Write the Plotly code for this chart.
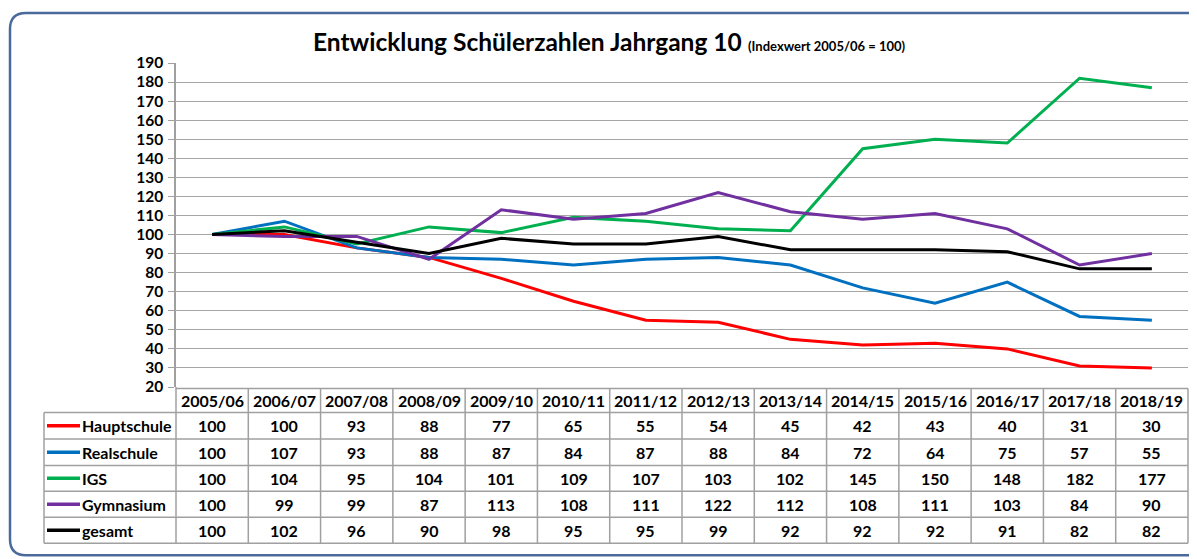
import plotly.graph_objects as go

years = ["2005/06", "2006/07", "2007/08", "2008/09", "2009/10", "2010/11", "2011/12",
         "2012/13", "2013/14", "2014/15", "2015/16", "2016/17", "2017/18", "2018/19"]
hauptschule = [100, 100, 93, 88, 77, 65, 55, 54, 45, 42, 43, 40, 31, 30]
realschule = [100, 107, 93, 88, 87, 84, 87, 88, 84, 72, 64, 75, 57, 55]
igs = [100, 104, 95, 104, 101, 109, 107, 103, 102, 145, 150, 148, 182, 177]
gymnasium = [100, 99, 99, 87, 113, 108, 111, 122, 112, 108, 111, 103, 84, 90]
gesamt = [100, 102, 96, 90, 98, 95, 95, 99, 92, 92, 92, 91, 82, 82]

series_names = ["Hauptschule", "Realschule", "IGS", "Gymnasium", "gesamt"]
series_values = [hauptschule, realschule, igs, gymnasium, gesamt]
series_colors = ["#FF0000", "#0070C0", "#00B050", "#7030A0", "#000000"]
y_ticks = list(range(20, 200, 10))

# page offset of the figure div (browser body margin)
OFF = 8
W, H = 1197 - OFF, 559 - OFF
# plot-area edges in screen pixels
PL, PR, PT, PB = 176, 1188, 63, 387.5
FONT = "Lato"


def px(x):
    return (x - PL) / (PR - PL)


def py(y):
    return (PB - y) / (PB - PT)


fig = go.Figure()
for name, vals, col in zip(series_names, series_values, series_colors):
    fig.add_trace(go.Scatter(x=years, y=vals, mode="lines", name=name,
                             line=dict(color=col, width=3), showlegend=False))

shapes = []
annotations = []
grid_col = "#A0A0A0"

# table geometry (screen pixels)
row_edges = [389, 413, 439.5, 466, 492, 518, 544]
n = len(years)
shapes.append(dict(type="line", xref="paper", yref="paper", x0=0, x1=1,
                   y0=py(row_edges[0]), y1=py(row_edges[0]),
                   line=dict(color=grid_col, width=1.5)))
for e in row_edges[1:]:
    shapes.append(dict(type="line", xref="paper", yref="paper", x0=px(44), x1=1,
                       y0=py(e), y1=py(e), line=dict(color=grid_col, width=1.5)))
for k in range(n + 1):
    shapes.append(dict(type="line", xref="paper", yref="paper", x0=k / n, x1=k / n,
                       y0=py(row_edges[0]) if k > 0 else 0, y1=py(row_edges[-1]),
                       line=dict(color=grid_col, width=1.5)))
shapes.append(dict(type="line", xref="paper", yref="paper", x0=px(44), x1=px(44),
                   y0=py(row_edges[1]), y1=py(row_edges[-1]),
                   line=dict(color=grid_col, width=1.5)))

tfont = dict(family=FONT, size=16, color="#000", weight="bold")

for yr in years:
    annotations.append(dict(x=yr, xref="x", yref="paper",
                            y=py((row_edges[0] + row_edges[1]) / 2), text=yr,
                            showarrow=False, xanchor="center", yanchor="middle",
                            font=tfont))

for r, (name, vals, col) in enumerate(zip(series_names, series_values, series_colors)):
    yc = py((row_edges[r + 1] + row_edges[r + 2]) / 2)
    shapes.append(dict(type="line", xref="paper", yref="paper", x0=px(47), x1=px(80),
                       y0=yc, y1=yc, line=dict(color=col, width=3.5)))
    annotations.append(dict(x=px(80), xref="paper", yref="paper", y=yc, text=name,
                            showarrow=False, xanchor="left", yanchor="middle",
                            font=tfont))
    for yr, v in zip(years, vals):
        annotations.append(dict(x=yr, xref="x", yref="paper", y=yc, text=str(v),
                                showarrow=False, xanchor="center", yanchor="middle",
                                font=tfont))

# outer rounded frame (its right side runs past the page edge)
x0, y0, x1, y1, r = 10, 13, 1400, 556, 16
rx = r / (PR - PL)
ry = r / (PB - PT)
X0, X1, Y0, Y1 = px(x0), px(x1), py(y0), py(y1)
path = (f"M {X0 + rx},{Y0} L {X1 - rx},{Y0} Q {X1},{Y0} {X1},{Y0 - ry} "
        f"L {X1},{Y1 + ry} Q {X1},{Y1} {X1 - rx},{Y1} L {X0 + rx},{Y1} "
        f"Q {X0},{Y1} {X0},{Y1 + ry} L {X0},{Y0 - ry} Q {X0},{Y0} {X0 + rx},{Y0} Z")
shapes.append(dict(type="path", xref="paper", yref="paper", path=path,
                   line=dict(color="#4A6A9C", width=2.5), layer="below"))

annotations.append(dict(x=px(609), y=py(41), xref="paper", yref="paper",
                        text="<b>Entwicklung Schülerzahlen Jahrgang 10</b> "
                             "<span style='font-size:13px'><b>(Indexwert 2005/06 = 100)</b></span>",
                        showarrow=False, xanchor="center", yanchor="middle",
                        font=dict(family=FONT, size=24.5, color="#000")))

fig.update_layout(
    width=W, height=H,
    margin=dict(l=PL - OFF, r=W - (PR - OFF), t=PT - OFF, b=H - (PB - OFF), pad=0),
    paper_bgcolor="white", plot_bgcolor="white",
    shapes=shapes, annotations=annotations,
    font=dict(family=FONT),
    xaxis=dict(type="category", categoryorder="array", categoryarray=years,
               range=[-0.5, n - 0.5], showgrid=False, showticklabels=False,
               ticks="", showline=False, zeroline=False, fixedrange=True),
    yaxis=dict(range=[20, 190], tickvals=y_ticks, showgrid=True, gridcolor="#A6A6A6",
               gridwidth=1, ticks="outside", ticklen=6, tickcolor="#A0A0A0",
               showline=True, linecolor="#A0A0A0", linewidth=1.5, zeroline=False,
               tickfont=dict(family=FONT, size=15.5, color="#000", weight="bold"),
               ticklabelstandoff=2, fixedrange=True),
)

fig.write_html("out.html")
